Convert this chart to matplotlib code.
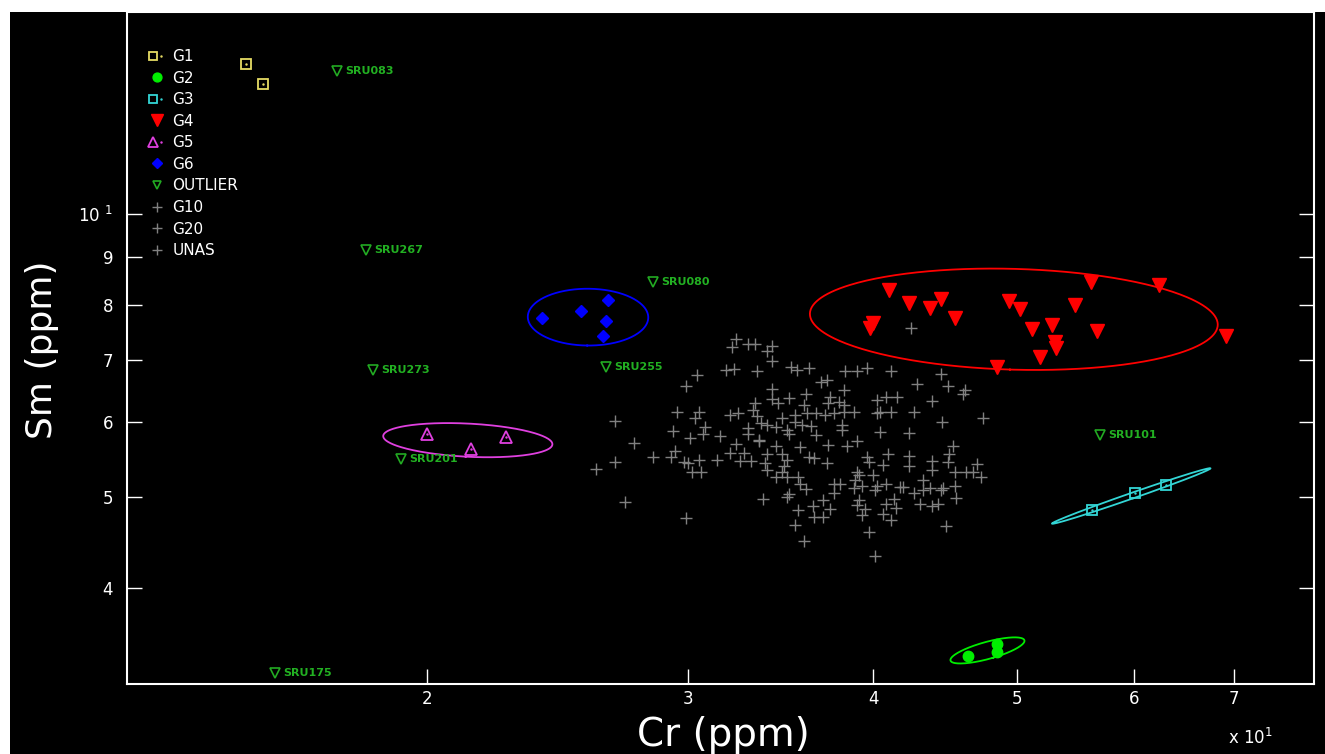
import numpy as np
import matplotlib
matplotlib.use('Agg')
import matplotlib.pyplot as plt
from matplotlib.patches import Rectangle
from matplotlib.ticker import NullLocator
from matplotlib.legend_handler import HandlerTuple
from matplotlib.lines import Line2D


# Cr and Sm concentrations (ppm) per group
g1_cr = [15.1, 15.5]
g1_sm = [14.44, 13.75]

g2_cr = [46.3, 48.5, 48.5]
g2_sm = [3.39, 3.49, 3.42]

g3_cr = [56.2, 60.1, 63.0]
g3_sm = [4.84, 5.05, 5.15]

g4_cr = [41.0, 42.3, 43.7, 44.4, 45.4, 40.0, 39.8, 48.5, 49.4, 50.2,
         51.2, 52.8, 53.0, 53.1, 51.8, 54.7, 56.1, 56.6, 62.3, 69.2]
g4_sm = [8.30, 8.04, 7.94, 8.12, 7.75, 7.66, 7.56, 6.87, 8.08, 7.92,
         7.55, 7.62, 7.31, 7.20, 7.04, 8.00, 8.47, 7.51, 8.41, 7.42]

g5_cr = [20.0, 21.4, 22.6]
g5_sm = [5.83, 5.62, 5.79]

g6_cr = [23.9, 25.4, 26.5, 26.4, 26.3]
g6_sm = [7.75, 7.89, 8.10, 7.69, 7.42]

outlier_names = ['SRU083', 'SRU267', 'SRU080', 'SRU255', 'SRU273', 'SRU201', 'SRU101', 'SRU175']
outlier_cr = [17.4, 18.2, 28.4, 26.4, 18.4, 19.2, 56.9, 15.8]
outlier_sm = [14.20, 9.16, 8.47, 6.87, 6.82, 5.49, 5.82, 3.25]

g10_cr, g10_sm = [], []
g20_cr, g20_sm = [], []

unas_cr = [32.3, 32.1, 32.9, 33.3, 34.2, 33.9, 34.2, 30.4, 31.8, 32.2,
           33.4, 35.2, 35.5, 36.2, 38.3, 39.0, 39.6, 41.1, 44.4, 29.9,
           34.2, 36.9, 37.2, 38.2, 42.8, 44.9, 46.1, 46.0, 33.3, 34.2,
           34.5, 35.1, 36.0, 35.9, 37.4, 37.3, 37.9, 38.2, 40.2, 40.8,
           41.5, 43.8, 29.5, 30.5, 30.3, 32.0, 32.4, 33.2, 33.4, 34.7,
           35.4, 36.1, 36.6, 37.1, 37.6, 38.2, 38.8, 40.2, 40.4, 41.1,
           42.6, 47.4, 26.8, 30.8, 30.7, 30.1, 29.3, 31.5, 32.9, 32.9,
           33.6, 33.9, 34.4, 35.0, 35.1, 35.4, 35.8, 36.3, 36.6, 38.1,
           38.1, 40.4, 42.3, 44.5, 27.6, 29.4, 28.4, 29.2, 29.8, 30.0,
           30.5, 31.4, 30.2, 30.6, 32.3, 33.5, 33.5, 32.0, 32.7, 32.5,
           33.1, 33.9, 34.4, 34.7, 35.0, 35.7, 37.3, 38.4, 39.0, 39.6,
           39.7, 40.6, 40.9, 42.3, 42.3, 43.8, 43.8, 44.9, 45.0, 45.3,
           47.0, 46.2, 46.7, 47.3, 45.4, 36.2, 36.5, 37.2, 33.8, 33.9,
           34.8, 34.7, 34.4, 35.0, 35.6, 35.7, 36.0, 37.6, 38.0, 37.6,
           39.0, 39.1, 38.9, 38.8, 39.3, 40.0, 40.2, 40.1, 40.8, 41.7,
           41.9, 42.6, 43.2, 43.2, 43.7, 44.4, 44.6, 45.4, 45.5, 26.0,
           26.8, 27.2, 29.9, 33.7, 35.1, 35.0, 35.4, 35.6, 36.4, 37.0,
           36.5, 37.0, 37.4, 39.1, 39.0, 39.5, 39.3, 40.8, 41.3, 41.4,
           40.6, 41.1, 43.0, 43.8, 44.2, 39.7, 44.8, 35.9, 40.1, 42.4]
unas_sm = [7.36, 7.21, 7.27, 7.27, 7.23, 7.14, 6.98, 6.74, 6.82, 6.84,
           6.81, 6.88, 6.82, 6.86, 6.81, 6.81, 6.86, 6.80, 6.76, 6.56,
           6.52, 6.63, 6.66, 6.49, 6.59, 6.56, 6.49, 6.43, 6.30, 6.36,
           6.29, 6.37, 6.43, 6.26, 6.38, 6.29, 6.31, 6.26, 6.34, 6.38,
           6.38, 6.33, 6.16, 6.15, 6.06, 6.11, 6.14, 6.18, 6.09, 6.07,
           6.11, 6.14, 6.14, 6.11, 6.14, 6.16, 6.15, 6.14, 6.16, 6.16,
           6.15, 6.06, 6.02, 5.94, 5.84, 5.77, 5.88, 5.81, 5.92, 5.84,
           5.99, 5.97, 5.94, 5.89, 5.84, 6.01, 5.96, 5.95, 5.82, 5.96,
           5.89, 5.86, 5.85, 6.00, 5.71, 5.59, 5.52, 5.51, 5.44, 5.43,
           5.48, 5.47, 5.32, 5.31, 5.69, 5.75, 5.73, 5.57, 5.57, 5.46,
           5.46, 5.56, 5.66, 5.55, 5.47, 5.65, 5.68, 5.67, 5.73, 5.51,
           5.44, 5.41, 5.55, 5.53, 5.39, 5.46, 5.34, 5.45, 5.55, 5.66,
           5.42, 5.31, 5.32, 5.25, 5.31, 5.51, 5.50, 5.43, 5.43, 5.34,
           5.40, 5.32, 5.25, 5.25, 5.25, 5.16, 5.10, 5.16, 5.16, 5.05,
           5.32, 5.27, 5.21, 5.11, 5.13, 5.28, 5.13, 5.09, 5.16, 5.12,
           5.12, 5.05, 5.08, 5.21, 5.11, 5.08, 5.11, 5.14, 4.99, 5.36,
           5.45, 4.94, 4.75, 4.98, 5.04, 5.00, 4.67, 4.84, 4.89, 4.96,
           4.76, 4.76, 4.85, 4.96, 4.90, 4.86, 4.78, 4.92, 4.98, 4.87,
           4.80, 4.73, 4.92, 4.89, 4.92, 4.59, 4.66, 4.49, 4.33, 7.56]

x_ticks = [20, 30, 40, 50, 60, 70]
x_tick_labels = ['2', '3', '4', '5', '6', '7']
y_ticks = [4, 5, 6, 7, 8, 9, 10]
y_tick_labels = ['4', '5', '6', '7', '8', '9', r'$\mathregular{10\ ^{1}}$']

groups = [
    ('G1', g1_cr, g1_sm),
    ('G2', g2_cr, g2_sm),
    ('G3', g3_cr, g3_sm),
    ('G4', g4_cr, g4_sm),
    ('G5', g5_cr, g5_sm),
    ('G6', g6_cr, g6_sm),
    ('OUTLIER', outlier_cr, outlier_sm),
    ('G10', g10_cr, g10_sm),
    ('G20', g20_cr, g20_sm),
    ('UNAS', unas_cr, unas_sm),
]

styles = {
    'G1': dict(marker='s', color='#e6dc64', mfc='none', ms=7.5, mew=1.3),
    'G2': dict(marker='o', color='#00ee00', ms=7.5),
    'G3': dict(marker='s', color='#33d6d6', mfc='none', ms=7, mew=1.3),
    'G4': dict(marker='v', color='#ff0000', ms=9.5),
    'G5': dict(marker='^', color='#e040e0', mfc='none', ms=8, mew=1.3),
    'G6': dict(marker='D', color='#0000ff', ms=6),
    'OUTLIER': dict(marker='v', color='#22aa22', mfc='none', ms=7.5, mew=1.2),
    'G10': dict(marker='+', color='#808080', ms=8.5, mew=1),
    'G20': dict(marker='+', color='#808080', ms=8.5, mew=1),
    'UNAS': dict(marker='+', color='#808080', ms=8.5, mew=1),
}
# open symbols carry a dot in the middle
dotted = {'G1', 'G3', 'G5'}


def conf_ellipse(xs, ys, p=0.90, n=300):
    # 90% confidence ellipse computed in log10 space
    lx, ly = np.log10(xs), np.log10(ys)
    vals, vecs = np.linalg.eigh(np.cov(lx, ly))
    k = np.sqrt(-2 * np.log(1 - p))
    t = np.linspace(0, 2 * np.pi, n)
    pts = vecs @ (np.sqrt(vals)[:, None] * np.vstack([np.cos(t), np.sin(t)])) * k
    return 10 ** (lx.mean() + pts[0]), 10 ** (ly.mean() + pts[1])


fig = plt.figure(figsize=(13.25, 7.54), dpi=100, facecolor='white')
fig.patches.append(Rectangle((10 / 1325, 0), 1, 1 - 12 / 754, transform=fig.transFigure,
                             facecolor='black', edgecolor='none', zorder=-5))
ax = fig.add_axes([127 / 1325, 1 - 684 / 754, 1187 / 1325, 672 / 754])
ax.set_facecolor('black')
ax.set_xscale('log')
ax.set_yscale('log')

for name, cr, sm in groups:
    st = styles[name]
    ax.plot(cr, sm, ls='none', zorder=3, **st)
    if name in dotted:
        ax.plot(cr, sm, ls='none', marker='.', ms=1.5, color=st['color'], zorder=4)
    if name.startswith('G') and len(cr) >= 3:
        ex, ey = conf_ellipse(cr, sm)
        ax.plot(ex, ey, color=st['color'], lw=1.3, zorder=2)

for name, x, y in zip(outlier_names, outlier_cr, outlier_sm):
    ax.annotate(name, (x, y), xytext=(6, 0), textcoords='offset points', fontsize=8,
                color='#22b022', fontweight='bold', va='center')

# Legend, slightly smaller symbols than the plot
handles, labels = [], []
for name, cr, sm in groups:
    st = dict(styles[name])
    st['ms'] = st['ms'] * 0.85
    h = Line2D([], [], ls='none', **st)
    if name in dotted:
        h = (h, Line2D([], [], ls='none', marker='.', ms=1.5, color=st['color']))
    handles.append(h)
    labels.append(name)
ax.legend(handles, labels, loc='upper left', bbox_to_anchor=(0.019, 0.945), frameon=False,
          fontsize=11, labelcolor='white', handlelength=1.0, handletextpad=0.5,
          labelspacing=0.43, borderaxespad=0, borderpad=0,
          handler_map={tuple: HandlerTuple(ndivide=None, pad=0)})

# Axes
ax.set_xlim(12.55, 79.3)
ax.set_ylim(3.162, 16.4)
ax.xaxis.set_minor_locator(NullLocator())
ax.yaxis.set_minor_locator(NullLocator())
ax.set_xticks(x_ticks)
ax.set_xticklabels(x_tick_labels)
ax.set_yticks(y_ticks)
ax.set_yticklabels(y_tick_labels)
ax.tick_params(which='both', direction='in', length=11, width=1, colors='white',
               top=False, right=True, labelsize=12)
ax.tick_params(axis='y', pad=10)
ax.tick_params(axis='x', pad=4)
for sp in ax.spines.values():
    sp.set_color('white')
    sp.set_linewidth(1.5)

fig.text(723 / 1325, 1 - 735 / 754, 'Cr (ppm)', color='white', fontsize=28, ha='center', va='center')
fig.text(42 / 1325, 1 - 350 / 754, 'Sm (ppm)', color='white', fontsize=26, ha='center', va='center',
         rotation=90)
fig.text(1250 / 1325, 1 - 738 / 754, r'x $\mathregular{10^1}$', color='white', fontsize=12,
         ha='center', va='center')

fig.savefig('out.png', facecolor=fig.get_facecolor())
plt.close()
